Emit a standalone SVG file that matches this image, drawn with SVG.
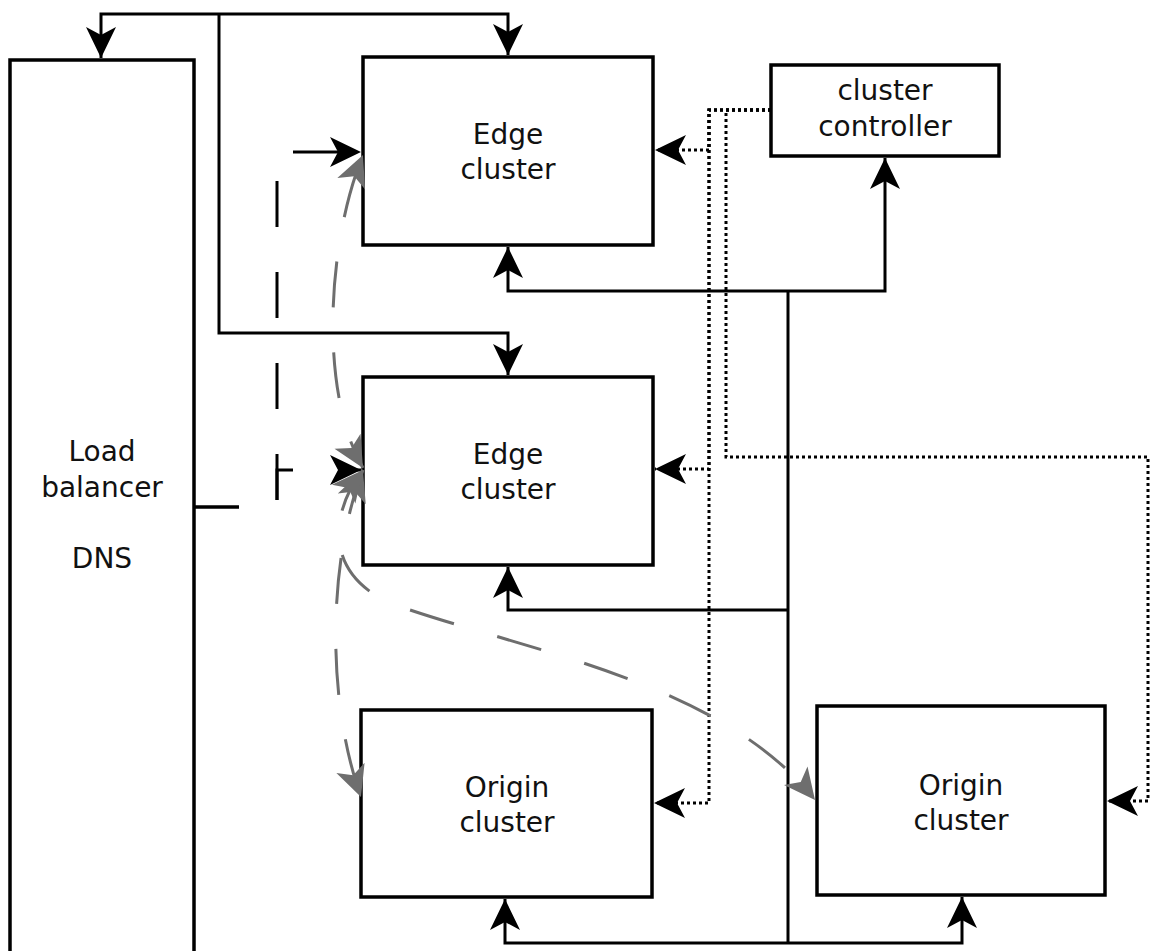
<svg xmlns="http://www.w3.org/2000/svg" width="1150" height="951" viewBox="0 0 1150 951">
<style>
.box{fill:#fff;stroke:#000;stroke-width:3.5}
.lbl{font-family:"DejaVu Sans",Verdana,sans-serif;font-size:28px;fill:#111;text-anchor:middle}
.solid{fill:none;stroke:#000;stroke-width:3}
.dot{fill:none;stroke:#000;stroke-width:3;stroke-dasharray:3 3}
.dash{fill:none;stroke:#000;stroke-width:3;stroke-dasharray:46 45}
.gdash{fill:none;stroke:#6e6e6e;stroke-width:3;stroke-dasharray:46 45}
</style>
<defs>
<marker id="ab" markerUnits="userSpaceOnUse" markerWidth="34" markerHeight="34" refX="31" refY="15" orient="auto" overflow="visible"><path d="M31,15 L0,0 L8,15 L0,30 Z" fill="#000"/></marker>
<marker id="ag" markerUnits="userSpaceOnUse" markerWidth="34" markerHeight="34" refX="31" refY="15" orient="auto-start-reverse" overflow="visible"><path d="M31,15 L0,0 L8,15 L0,30 Z" fill="#6e6e6e"/></marker>
</defs>
<g id="load-balancer">
<rect class="box" x="10" y="60" width="184" height="900"/>
<text class="lbl" x="102" y="461">Load</text>
<text class="lbl" x="102" y="497">balancer</text>
<text class="lbl" x="102" y="568">DNS</text>
</g>
<g id="edge-cluster-1">
<rect class="box" x="363" y="57" width="290" height="188"/>
<text class="lbl" x="508" y="144">Edge</text>
<text class="lbl" x="508" y="179">cluster</text>
</g>
<g id="edge-cluster-2">
<rect class="box" x="363" y="377" width="290" height="188"/>
<text class="lbl" x="508" y="464">Edge</text>
<text class="lbl" x="508" y="499">cluster</text>
</g>
<g id="origin-cluster-1">
<rect class="box" x="361" y="710" width="291" height="187"/>
<text class="lbl" x="507" y="797">Origin</text>
<text class="lbl" x="507" y="832">cluster</text>
</g>
<g id="origin-cluster-2">
<rect class="box" x="817" y="706" width="288" height="189"/>
<text class="lbl" x="961" y="795">Origin</text>
<text class="lbl" x="961" y="830">cluster</text>
</g>
<g id="cluster-controller">
<rect class="box" x="771" y="65" width="228" height="91"/>
<text class="lbl" x="885" y="100">cluster</text>
<text class="lbl" x="885" y="136">controller</text>
</g>
<g id="connectors">
<path class="solid" d="M219,14 H101 V58" marker-end="url(#ab)"/>
<path class="solid" d="M219,14 H508 V55" marker-end="url(#ab)"/>
<path class="solid" d="M219,14 V333 H508 V375" marker-end="url(#ab)"/>
<path class="dash" d="M193,507 H277 V152 H361" marker-end="url(#ab)"/>
<path class="dash" d="M193,507 H277 V470 H361" marker-end="url(#ab)"/>
<path class="solid" d="M788,291 V943"/>
<path class="solid" d="M788,291 H885 V158" marker-end="url(#ab)"/>
<path class="solid" d="M788,291 H508 V247" marker-end="url(#ab)"/>
<path class="solid" d="M788,610 H508 V567" marker-end="url(#ab)"/>
<path class="solid" d="M788,943 H505 V899" marker-end="url(#ab)"/>
<path class="solid" d="M788,943 H962 V897" marker-end="url(#ab)"/>
<path class="dot" d="M771,110 H709 V150 H655" marker-end="url(#ab)"/>
<path class="dot" d="M771,110 H709 V469 H655" marker-end="url(#ab)"/>
<path class="dot" d="M771,110 H709 V803 H654" marker-end="url(#ab)"/>
<path class="dot" d="M771,110 H726 V457 H1148 V801 H1107" marker-end="url(#ab)"/>
<path class="gdash" style="stroke-dashoffset:72" d="M363,155 C328,240 318,390 363,468" marker-start="url(#ag)" marker-end="url(#ag)"/>
<path class="gdash" d="M363,470 C328,560 326,700 361,797" marker-start="url(#ag)" marker-end="url(#ag)"/>
<path class="gdash" d="M363,470 C335,505 318,570 390,603 C520,650 720,680 815,800" marker-start="url(#ag)" marker-end="url(#ag)"/>
</g>
</svg>
